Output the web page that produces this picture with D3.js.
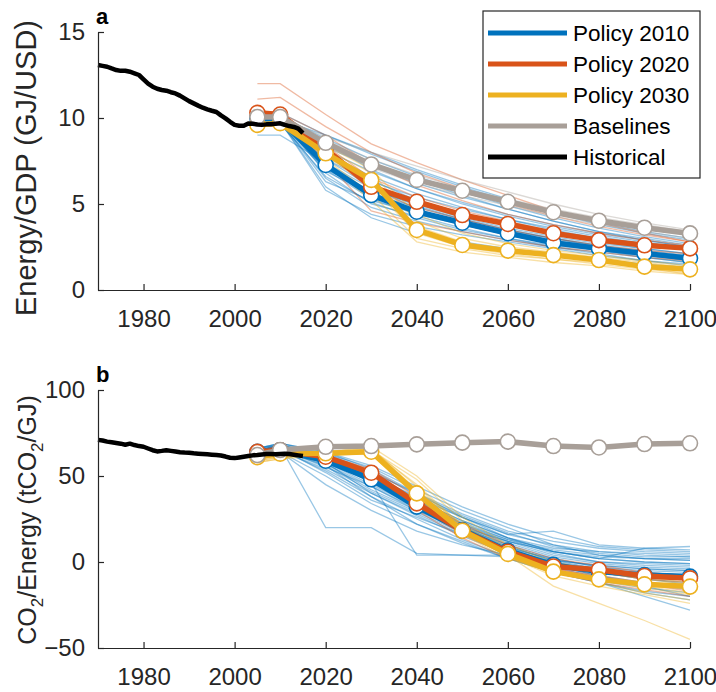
<!DOCTYPE html>
<html>
<head>
<meta charset="utf-8">
<script src="https://d3js.org/d3.v7.min.js"></script>
<style>
  body { margin: 0; background: #fff; }
  svg { display: block; font-family: "Liberation Sans", Arial, sans-serif; }
  .axis path, .axis line { stroke: #262626; stroke-width: 1.2px; }
  .axis text { fill: #262626; font-size: 24px; }
</style>
</head>
<body>
<svg id="chart" width="716" height="692"></svg>
<script>
// ---- data ----
const projYears = [2005, 2010, 2020, 2030, 2040, 2050, 2060, 2070, 2080, 2090, 2100];
const histYears = [1970,1971,1972,1973,1974,1975,1976,1977,1978,1979,1980,1981,1982,1983,1984,1985,1986,1987,1988,1989,
  1990,1991,1992,1993,1994,1995,1996,1997,1998,1999,2000,2001,2002,2003,2004,2005,2006,2007,2008,2009,2010,2011,2012,2013,2014,2015];
const xTicks = [1980, 2000, 2020, 2040, 2060, 2080, 2100];

// panel a: energy intensity (GJ/USD)
const histA = [13.08,13.03,12.98,12.88,12.79,12.74,12.75,12.69,12.6,12.5,12.25,12.0,11.82,11.7,11.63,11.59,11.5,11.43,11.3,11.14,
  10.98,10.85,10.72,10.6,10.5,10.42,10.35,10.15,9.98,9.78,9.6,9.55,9.55,9.68,9.66,9.62,9.6,9.63,9.64,9.66,9.69,9.6,9.53,9.48,9.38,9.12];
const medA2010 = [10.0, 9.9, 7.27, 5.52, 4.55, 3.91, 3.3, 2.75, 2.42, 2.13, 1.84];
const medA2020 = [10.3, 10.2, 8.2, 6.0, 5.13, 4.36, 3.84, 3.3, 2.9, 2.6, 2.42];
const medA2030 = [9.6, 9.7, 7.95, 6.4, 3.49, 2.62, 2.29, 2.03, 1.74, 1.36, 1.2];
const medABase = [10.06, 10.06, 8.56, 7.3, 6.4, 5.77, 5.13, 4.52, 4.03, 3.62, 3.29];
const runsA2010 = [
  [10.0, 9.9, 8.0, 6.6, 5.6, 4.8, 4.1, 3.5, 3.0, 2.6, 2.3],
  [10.1, 10.0, 7.0, 5.3, 4.4, 3.8, 3.2, 2.7, 2.3, 2.0, 1.8],
  [9.9, 9.8, 6.5, 4.8, 4.0, 3.4, 2.9, 2.5, 2.2, 1.9, 1.6],
  [10.2, 10.1, 8.8, 7.6, 6.6, 5.7, 4.9, 4.2, 3.6, 3.1, 2.7],
  [9.0, 9.0, 7.4, 5.9, 4.9, 4.1, 3.5, 3.0, 2.6, 2.2, 1.9],
  [10.0, 9.8, 6.0, 4.2, 3.3, 2.8, 2.4, 2.1, 1.8, 1.5, 1.3],
  [10.1, 10.0, 7.8, 6.2, 5.0, 4.2, 3.6, 3.1, 2.7, 2.4, 2.1],
  [9.7, 9.6, 7.0, 5.8, 5.0, 4.4, 3.9, 3.4, 3.0, 2.7, 2.5],
  [10.0, 9.9, 8.3, 7.2, 6.2, 5.4, 4.7, 4.0, 3.4, 3.0, 2.6],
  [10.1, 10.0, 6.8, 5.0, 4.3, 3.6, 3.0, 2.5, 2.1, 1.7, 1.4],
  [9.8, 9.7, 7.6, 6.0, 4.7, 3.9, 3.3, 2.8, 2.4, 2.1, 1.8],
  [10.0, 9.9, 7.2, 5.4, 4.6, 4.0, 3.4, 2.9, 2.5, 2.1, 1.7],
  [10.3, 10.3, 9.0, 7.9, 6.9, 6.0, 5.2, 4.5, 3.9, 3.4, 3.0],
  [9.9, 9.8, 6.3, 5.2, 4.5, 3.9, 3.4, 3.0, 2.6, 2.3, 2.0],
  [10.0, 9.9, 9.0, 8.0, 7.0, 6.1, 5.3, 4.5, 3.8, 3.3, 2.9],
  [9.9, 9.8, 8.5, 7.4, 6.4, 5.5, 4.7, 4.0, 3.4, 2.9, 2.5],
  [10.1, 10.0, 7.6, 6.3, 5.4, 4.7, 4.1, 3.6, 3.1, 2.7, 2.3],
  [10.0, 9.9, 6.9, 5.6, 4.8, 4.1, 3.5, 3.0, 2.5, 2.1, 1.8],
  [9.8, 9.7, 6.6, 5.1, 4.2, 3.5, 3.0, 2.6, 2.3, 2.0, 1.7],
  [10.2, 10.1, 8.1, 6.9, 5.9, 5.1, 4.4, 3.8, 3.3, 2.9, 2.5],
  [10.0, 9.9, 7.9, 6.4, 5.2, 4.5, 3.8, 3.3, 2.8, 2.4, 2.1],
  [9.9, 9.9, 7.3, 5.7, 4.6, 3.8, 3.2, 2.7, 2.3, 1.9, 1.6],
  [10.1, 10.0, 8.6, 7.0, 5.9, 5.0, 4.3, 3.7, 3.2, 2.8, 2.4],
  [9.9, 9.8, 5.8, 4.4, 3.7, 3.2, 2.8, 2.4, 2.0, 1.7, 1.5]
];
const runsA2020 = [
  [12.0, 12.0, 10.2, 8.5, 7.4, 6.4, 5.5, 4.6, 3.9, 3.3, 2.8],
  [11.1, 11.2, 9.5, 8.0, 6.8, 5.9, 5.0, 4.3, 3.7, 3.2, 2.8],
  [10.2, 10.1, 7.5, 4.6, 3.9, 3.4, 2.9, 2.5, 2.2, 1.9, 1.7],
  [10.3, 10.2, 8.4, 6.5, 5.4, 4.6, 4.0, 3.4, 3.0, 2.7, 2.4],
  [10.4, 10.3, 9.0, 7.3, 6.1, 5.2, 4.4, 3.8, 3.3, 2.9, 2.6],
  [10.2, 10.1, 8.0, 5.8, 4.8, 4.1, 3.5, 3.0, 2.6, 2.3, 2.1]
];
const runsA2030 = [
  [9.6, 9.7, 7.6, 5.6, 3.0, 2.4, 2.0, 1.8, 1.5, 1.2, 1.0],
  [9.7, 9.8, 8.2, 6.8, 4.0, 3.0, 2.5, 2.2, 1.9, 1.6, 1.3],
  [9.5, 9.6, 7.8, 6.0, 3.3, 2.5, 2.1, 1.8, 1.6, 1.3, 0.9],
  [9.7, 9.7, 8.4, 7.0, 4.4, 3.3, 2.7, 2.3, 2.0, 1.7, 1.4],
  [9.6, 9.7, 8.0, 6.2, 3.7, 2.8, 2.3, 2.0, 1.7, 1.4, 1.1],
  [9.5, 9.6, 7.4, 5.2, 2.8, 2.2, 1.9, 1.6, 1.4, 1.1, 0.9]
];
const runsABase = [
  [10.0, 9.9, 8.7, 7.6, 6.7, 5.9, 5.3, 4.7, 4.2, 3.8, 3.4],
  [10.0, 9.9, 8.4, 7.1, 6.2, 5.5, 4.9, 4.3, 3.8, 3.4, 3.0],
  [10.1, 10.0, 8.9, 8.0, 7.2, 6.4, 5.7, 5.0, 4.4, 3.9, 3.5]
];

// panel b: carbon intensity (tCO2/GJ)
const histB = [71.0,70.6,70.0,69.6,69.2,68.8,68.2,68.8,68.0,67.4,67.0,66.0,65.0,64.3,64.6,65.0,64.6,64.2,63.8,63.6,
  63.5,63.2,63.0,62.8,62.6,62.4,62.2,61.9,61.3,60.6,60.4,60.8,61.2,61.6,62.0,62.2,62.5,62.8,62.8,62.6,62.8,63.0,62.8,62.4,62.0,61.6];
const medB2010 = [64, 65, 58.9, 48.1, 32.2, 18.6, 6.6, -1.7, -5.6, -7.6, -8.5];
const medB2020 = [64, 65, 61.2, 51.9, 34.1, 18.2, 6.0, -2.6, -4.5, -8.1, -9.5];
const medB2030 = [61, 63, 63.2, 64.1, 39.9, 18.2, 4.7, -5.6, -10.1, -13.0, -14.3];
const medBBase = [62.2, 65.1, 67.0, 67.4, 68.4, 69.4, 70.0, 67.4, 66.6, 68.6, 69.0];
const runsB2010 = [
  [64, 66, 60, 50, 36, 22, 12, 4, 0, -2, -3],
  [65, 67, 20, 20, 5, 4, 3, 1, -2, -4, -5],
  [63, 65, 58, 40, 28, 16, 6, -2, -8, -14, -20],
  [66, 68, 62, 52, 40, 28, 18, 12, 8, 6, 5],
  [64, 66, 55, 44, 30, 18, 8, 2, -3, -5, -6],
  [65, 67, 61, 46, 4, 4, 4, -2, -8, -12, -15],
  [63, 65, 56, 38, 22, 12, 2, -6, -12, -18, -22],
  [66, 68, 63, 55, 42, 30, 20, 10, 4, 2, 1],
  [64, 66, 59, 48, 34, 20, 10, 0, -6, -10, -12],
  [62, 64, 45, 30, 18, 10, 4, -4, -12, -20, -28],
  [65, 67, 60, 50, 38, 26, 16, 18, 10, 8, 7],
  [64, 66, 57, 42, 30, 20, 12, 6, 2, 0, -1],
  [65, 67, 62, 52, 36, 24, 14, 6, 2, 8, 9],
  [66, 69, 64, 54, 40, 26, 14, 6, 3, 2, 2],
  [63, 66, 52, 36, 26, 16, 8, 0, -4, -8, -10],
  [65, 68, 62, 50, 36, 24, 14, 8, 6, 5, 4],
  [64, 67, 60, 47, 33, 21, 11, 3, -1, -3, -4],
  [63, 66, 57, 44, 31, 19, 9, 1, -4, -7, -9],
  [66, 69, 63, 53, 39, 27, 17, 9, 5, 3, 3],
  [64, 66, 58, 45, 32, 20, 10, 2, -3, -6, -8],
  [65, 67, 59, 49, 35, 23, 13, 5, 0, -1, -2],
  [62, 65, 54, 40, 27, 15, 5, -3, -9, -13, -16],
  [65, 68, 61, 51, 37, 26, 16, 10, 6, 4, 3],
  [63, 66, 56, 41, 29, 17, 7, -1, -6, -10, -13],
  [64, 67, 62, 49, 34, 21, 12, 6, 2, 0, -1],
  [66, 69, 64, 56, 44, 32, 22, 14, 9, 7, 6],
  [63, 65, 53, 38, 25, 13, 3, -5, -11, -15, -18],
  [64, 66, 60, 46, 32, 20, 9, 1, -2, -4, -5],
  [65, 67, 61, 48, 33, 22, 13, 7, 4, 2, 1],
  [62, 64, 50, 34, 22, 11, 2, -6, -12, -17, -20]
];
const runsB2020 = [
  [64, 66, 61, 52, 34, 18, 4, -6, -12, -16, -20],
  [65, 67, 62, 54, 38, 22, 10, 2, -2, -6, -8],
  [63, 65, 60, 50, 30, 14, 2, -4, -8, -12, -15],
  [64, 66, 62, 53, 36, 20, 7, -1, -5, -8, -10],
  [65, 67, 61, 50, 32, 16, 4, -4, -9, -13, -17],
  [63, 66, 60, 51, 35, 19, 6, -2, -6, -10, -12]
];
const runsB2030 = [
  [58, 60, 64, 65, 48, 24, 8, -4, -12, -18, -22],
  [60, 62, 63, 66, 44, 20, 4, -14, -24, -34, -45],
  [59, 61, 62, 63, 38, 16, 2, -6, -10, -14, -18],
  [61, 63, 64, 66, 42, 22, 6, -2, -6, -10, -13],
  [59, 61, 63, 65, 45, 21, 5, -6, -11, -15, -19],
  [60, 62, 64, 67, 50, 26, 10, 0, -5, -9, -12],
  [58, 60, 62, 64, 40, 18, 3, -8, -14, -19, -24]
];
const runsBBase = [];

const seriesNames = ["Policy 2010", "Policy 2020", "Policy 2030", "Baselines", "Historical"];
const seriesColors = ["#0072BD", "#D95319", "#EDB120", "#A89F98", "#000000"];

// ---- drawing ----
const svg = d3.select("#chart");
const x = d3.scaleLinear().domain([1970, 2100]).range([98, 690]);

function panel(cfg) {
  const y = d3.scaleLinear().domain(cfg.domain).range(cfg.range);
  const g = svg.append("g");

  const line = d3.line().x(d => x(d[0])).y(d => y(d[1]));
  const pts = vals => projYears.map((yr, i) => [yr, vals[i]]);

  // thin scenario runs
  const thin = g.append("g").attr("fill", "none").attr("stroke-width", 1.3).attr("stroke-opacity", 0.4);
  cfg.runs.forEach((set, k) => {
    set.forEach(r => thin.append("path").attr("d", line(pts(r))).attr("stroke", seriesColors[k]));
  });

  // medians with markers
  cfg.medians.forEach((m, k) => {
    const mg = g.append("g");
    mg.append("path").attr("d", line(pts(m)))
      .attr("fill", "none").attr("stroke", seriesColors[k]).attr("stroke-width", 5.5)
      .attr("stroke-linejoin", "round");
    mg.selectAll("circle").data(pts(m)).join("circle")
      .attr("cx", d => x(d[0])).attr("cy", d => y(d[1])).attr("r", 7.5)
      .attr("fill", "#fff").attr("stroke", seriesColors[k]).attr("stroke-width", 1.6);
  });

  // historical
  g.append("path").attr("d", line(histYears.map((yr, i) => [yr, cfg.hist[i]])))
    .attr("fill", "none").attr("stroke", "#000").attr("stroke-width", 4.5).attr("stroke-linejoin", "round");

  // axes
  g.append("g").attr("class", "axis").attr("transform", `translate(0,${cfg.range[0]})`)
    .call(d3.axisBottom(x).tickValues(xTicks).tickFormat(d3.format("d")).tickSize(-6).tickSizeOuter(0).tickPadding(20));
  g.append("g").attr("class", "axis").attr("transform", `translate(${x.range()[0]},0)`)
    .call(d3.axisLeft(y).tickValues(cfg.yTicks).tickSize(-6).tickSizeOuter(0).tickPadding(13));

  // panel letter
  g.append("text").attr("x", 96).attr("y", cfg.range[1] - 8)
    .attr("font-size", 22).attr("font-weight", "bold").attr("fill", "#000").text(cfg.letter);

  // y title
  const t = g.append("text").attr("transform", `translate(36,${cfg.titleY}) rotate(-90)`)
    .attr("text-anchor", "middle").attr("font-size", cfg.titleSize).attr("fill", "#262626");
  cfg.title.forEach(p => {
    const s = t.append("tspan").text(p.t);
    if (p.sub) s.attr("font-size", 17).attr("dy", 7);
    else if (p.after) s.attr("dy", -7);
  });
}

panel({
  domain: [0, 15], range: [290, 32], yTicks: [0, 5, 10, 15], letter: "a",
  runs: [runsA2010, runsA2020, runsA2030, runsABase],
  medians: [medA2010, medA2020, medA2030, medABase], hist: histA,
  title: [{ t: "Energy/GDP (GJ/USD)" }], titleSize: 29, titleY: 168
});

panel({
  domain: [-50, 100], range: [648, 390], yTicks: [-50, 0, 50, 100], letter: "b",
  runs: [runsB2010, runsB2020, runsB2030, runsBBase],
  medians: [medB2010, medB2020, medB2030, medBBase], hist: histB,
  title: [{ t: "CO" }, { t: "2", sub: true }, { t: "/Energy (tCO", after: true }, { t: "2", sub: true }, { t: "/GJ)", after: true }],
  titleSize: 25, titleY: 520
});

// legend
const lg = svg.append("g");
lg.append("rect").attr("x", 483).attr("y", 11).attr("width", 217).attr("height", 167)
  .attr("fill", "#fff").attr("stroke", "#262626").attr("stroke-width", 1.2);
seriesNames.forEach((n, i) => {
  const yy = 33 + i * 31;
  lg.append("line").attr("x1", 488).attr("x2", 567).attr("y1", yy).attr("y2", yy)
    .attr("stroke", seriesColors[i]).attr("stroke-width", 5);
  lg.append("text").attr("x", 573).attr("y", yy).attr("dy", "0.36em")
    .attr("font-size", 22.5).attr("fill", "#000").text(n);
});
</script>
</body>
</html>
